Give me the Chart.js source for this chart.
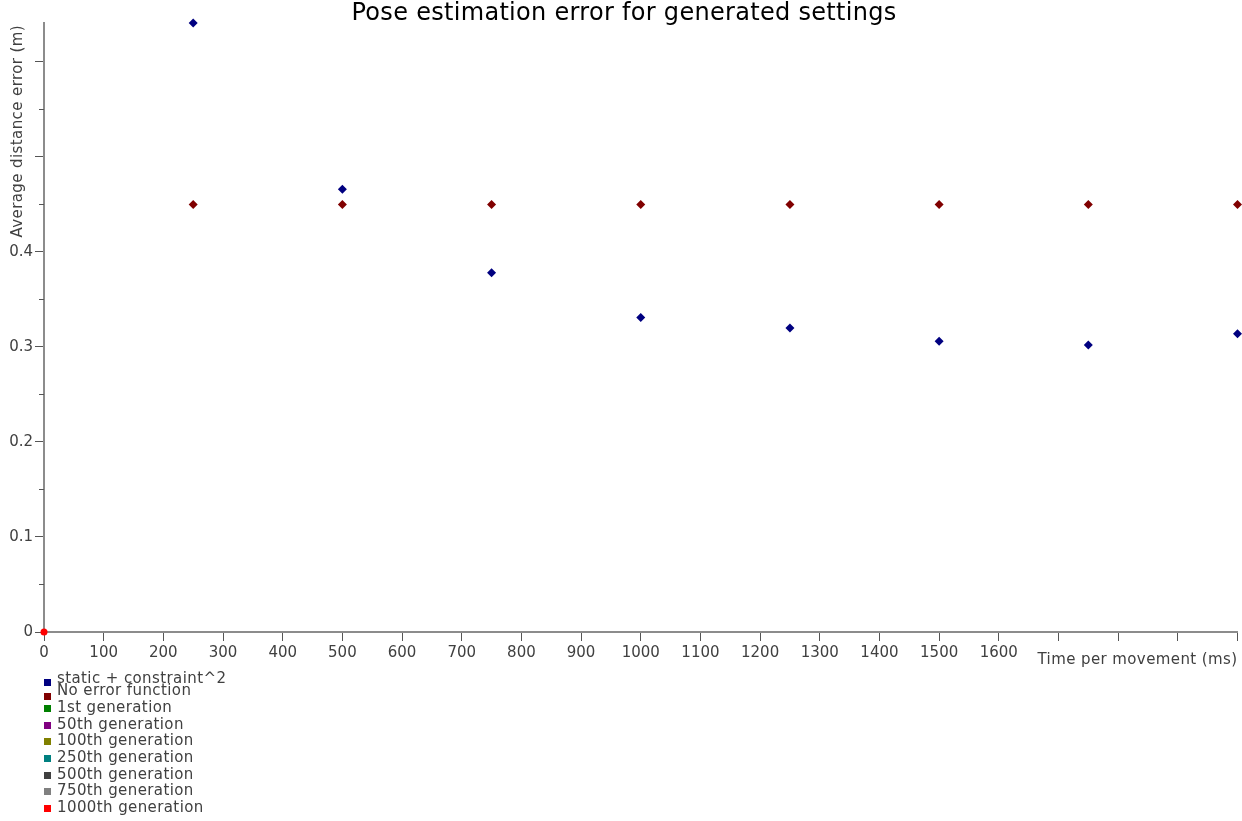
<!DOCTYPE html>
<html>
<head>
<meta charset="utf-8">
<script src="https://cdn.jsdelivr.net/npm/chart.js@4"></script>
<style>
  body { margin: 0; background: #fff; }
  #wrap { width: 1242px; height: 821px; }
</style>
</head>
<body>
<div id="wrap"><canvas id="chart"></canvas></div>
<script>
// data
const tiempos = [250, 500, 750, 1000, 1250, 1500, 1750, 2000];
const staticConstraint = [0.641, 0.466, 0.378, 0.331, 0.320, 0.306, 0.302, 0.314];
const noError = [0.450, 0.450, 0.450, 0.450, 0.450, 0.450, 0.450, 0.450];
const gen1000X = [0];
const gen1000Y = [0];

const series = [
  { label: "static + constraint^2", color: "#000080", x: tiempos, y: staticConstraint },
  { label: "No error function", color: "#800000", x: tiempos, y: noError },
  { label: "1st generation", color: "#008000", x: [], y: [] },
  { label: "50th generation", color: "#800080", x: [], y: [] },
  { label: "100th generation", color: "#808000", x: [], y: [] },
  { label: "250th generation", color: "#008080", x: [], y: [] },
  { label: "500th generation", color: "#404040", x: [], y: [] },
  { label: "750th generation", color: "#808080", x: [], y: [] },
  { label: "1000th generation", color: "#ff0000", x: gen1000X, y: gen1000Y, circle: true },
];

const xTicksHidden = [1700, 1800, 1900, 2000];
const yLabels = [0, 0.1, 0.2, 0.3, 0.4];

const fuente = "'DejaVu Sans', sans-serif";
const gris = "#8c8c8c";
const txt = "#404040";

const datasets = series.map(s => ({
  label: s.label,
  data: s.x.map((v, i) => ({ x: v, y: s.y[i] })),
  backgroundColor: s.color,
  borderColor: s.color,
  pointStyle: s.circle ? "circle" : "rectRot",
  pointRadius: s.circle ? 3.5 : 4.5,
  pointBorderWidth: 0,
  showLine: false,
  clip: false,
}));

// titles, minor ticks and legend drawn on the canvas
const extras = {
  id: "extras",
  afterDraw(chart) {
    const ctx = chart.ctx;
    const ys = chart.scales.y;
    const area = chart.chartArea;
    ctx.save();
    // minor y ticks
    ctx.strokeStyle = "#555";
    ctx.lineWidth = 1;
    for (let v = 0.05; v < ys.max; v += 0.1) {
      const py = Math.round(ys.getPixelForValue(v)) + 0.5;
      ctx.beginPath();
      ctx.moveTo(area.left - 5, py);
      ctx.lineTo(area.left, py);
      ctx.stroke();
    }
    // title
    ctx.fillStyle = "#000";
    ctx.font = "24px " + fuente;
    ctx.letterSpacing = "0.3px";
    ctx.textAlign = "center";
    ctx.textBaseline = "middle";
    ctx.fillText("Pose estimation error for generated settings", 624, 14);
    // x axis title
    ctx.fillStyle = txt;
    ctx.font = "15px " + fuente;
    ctx.letterSpacing = "0.4px";
    ctx.textAlign = "right";
    ctx.fillText("Time per movement (ms)", area.right, 660);
    // y axis title
    ctx.save();
    ctx.translate(18, area.top + 2);
    ctx.rotate(-Math.PI / 2);
    ctx.textAlign = "right";
    ctx.fillText("Average distance error (m)", 0, 0);
    ctx.restore();
    // legend
    const filas = [679, 691, 708, 725, 741, 758, 775, 791, 808];
    const cajas = [682, 696, 708, 725, 741, 758, 775, 791, 808];
    ctx.textAlign = "left";
    chart.data.datasets.forEach((d, i) => {
      ctx.fillStyle = d.backgroundColor;
      ctx.fillRect(44, cajas[i] - 3, 7, 7);
      ctx.fillStyle = txt;
      ctx.fillText(d.label, 57, filas[i]);
    });
    ctx.restore();
  }
};

const config = {
  type: "scatter",
  data: { datasets: datasets },
  options: {
    responsive: true,
    maintainAspectRatio: false,
    animation: false,
    layout: { padding: { top: 23, right: 2, left: 0, bottom: 0 } },
    plugins: {
      legend: { display: false },
      title: { display: false },
      tooltip: { enabled: false },
    },
    scales: {
      x: {
        type: "linear",
        min: 0,
        max: 2000,
        afterFit: (s) => { s.height = 821 - 23 - 609; },
        border: { color: gris, width: 2 },
        grid: { drawOnChartArea: false, drawTicks: true, tickLength: 9, tickColor: "#555", tickWidth: 1 },
        ticks: {
          stepSize: 100,
          padding: 3,
          color: txt,
          font: { family: fuente, size: 15 },
          maxRotation: 0,
          autoSkip: false,
          callback: (v) => xTicksHidden.includes(v) ? "" : v,
        },
      },
      y: {
        min: 0,
        max: 0.641,
        afterFit: (s) => { s.width = 44; },
        border: { color: gris, width: 2 },
        grid: {
          drawOnChartArea: false,
          drawTicks: true,
          tickLength: 9,
          tickWidth: 1,
          tickColor: (c) => {
            const v = Math.round(c.tick.value * 100);
            return v % 10 === 0 ? "#555" : "rgba(0,0,0,0)";
          },
        },
        ticks: {
          stepSize: 0.05,
          padding: 2,
          color: txt,
          font: { family: fuente, size: 15 },
          autoSkip: false,
          callback: (v) => {
            const hit = yLabels.find(l => Math.abs(l - v) < 1e-6);
            return hit === undefined ? "" : String(hit);
          },
        },
      },
    },
  },
  plugins: [extras],
};

const chart = new Chart(document.getElementById("chart"), config);
</script>
</body>
</html>
